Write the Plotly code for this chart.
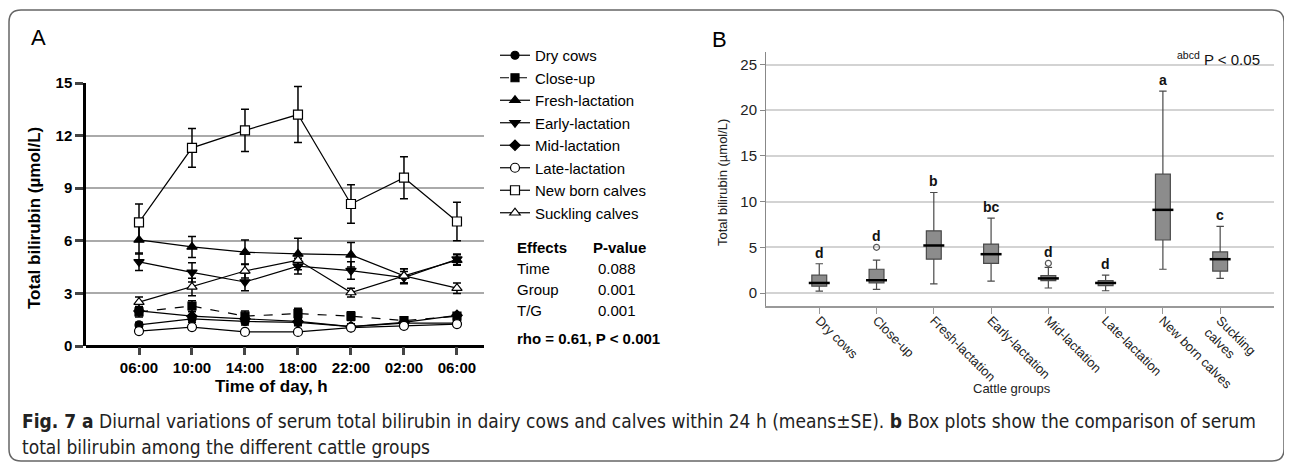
import plotly.graph_objects as go

# page body has an 8px margin, so the figure is shrunk by that much
OFF = 8
W, H = 1292 - OFF, 467 - OFF

# ─── Panel A data: diurnal means ± SE ─────────────────────────────────────────
times = ["06:00", "10:00", "14:00", "18:00", "22:00", "02:00", "06:00"]

dry_cows = [1.2, 1.55, 1.4, 1.35, 1.1, 1.3, 1.3]
dry_cows_se = [0.15, 0.2, 0.2, 0.2, 0.15, 0.15, 0.15]
close_up = [1.95, 2.28, 1.7, 1.85, 1.7, 1.45, 1.7]
close_up_se = [0.3, 0.3, 0.3, 0.3, 0.25, 0.2, 0.2]
fresh_lac = [6.05, 5.65, 5.35, 5.25, 5.2, 4.0, 4.9]
fresh_lac_se = [0.8, 0.6, 0.7, 0.9, 0.7, 0.4, 0.3]
early_lac = [4.8, 4.2, 3.65, 4.55, 4.3, 3.9, 4.95]
early_lac_se = [0.5, 0.55, 0.5, 0.45, 0.5, 0.35, 0.3]
mid_lac = [2.0, 1.7, 1.55, 1.4, 1.1, 1.35, 1.75]
mid_lac_se = [0.2, 0.25, 0.2, 0.2, 0.15, 0.15, 0.15]
late_lac = [0.85, 1.08, 0.8, 0.8, 1.05, 1.15, 1.25]
late_lac_se = [0.1, 0.12, 0.1, 0.1, 0.12, 0.12, 0.12]
new_born = [7.05, 11.3, 12.3, 13.2, 8.1, 9.6, 7.1]
new_born_se = [1.05, 1.1, 1.2, 1.6, 1.1, 1.2, 1.1]
suckling = [2.5, 3.37, 4.28, 4.9, 3.05, 4.0, 3.3]
suckling_se = [0.3, 0.5, 0.4, 0.35, 0.25, 0.4, 0.3]

effects = ["Time", "Group", "T/G"]
p_values = ["0.088", "0.001", "0.001"]

# ─── Panel B data: box plot summary ──────────────────────────────────────────
groups = ["Dry cows", "Close-up", "Fresh-lactation", "Early-lactation",
          "Mid-lactation", "Late-lactation", "New born calves", "Suckling calves"]
group_labels = ["Dry cows", "Close-up", "Fresh-lactation", "Early-lactation",
                "Mid-lactation", "Late-lactation", "New born calves", "Suckling<br>calves"]
b_low = [0.2, 0.4, 1.0, 1.3, 0.55, 0.25, 2.6, 1.6]
b_q1 = [0.75, 1.1, 3.7, 3.25, 1.35, 0.8, 5.8, 2.4]
b_med = [1.1, 1.4, 5.2, 4.25, 1.6, 1.1, 9.1, 3.7]
b_q3 = [1.95, 2.6, 6.8, 5.35, 1.9, 1.35, 13.0, 4.5]
b_high = [3.2, 3.6, 11.0, 8.2, 2.8, 1.95, 22.1, 7.3]
outlier_groups = ["Close-up", "Mid-lactation"]
outlier_values = [5.0, 3.25]
letters = ["d", "d", "b", "bc", "d", "d", "a", "c"]


def px(x):
    return (x - OFF) / W


def py(y):
    return 1 - (y - OFF) / H


fig = go.Figure()

# ── Panel A lines
series = [
    ("Dry cows", dry_cows, dry_cows_se, "circle", "black", "solid"),
    ("Close-up", close_up, close_up_se, "square", "black", "dash"),
    ("Fresh-lactation", fresh_lac, fresh_lac_se, "triangle-up", "black", "solid"),
    ("Early-lactation", early_lac, early_lac_se, "triangle-down", "black", "solid"),
    ("Mid-lactation", mid_lac, mid_lac_se, "diamond", "black", "solid"),
    ("Late-lactation", late_lac, late_lac_se, "circle", "white", "solid"),
    ("New born calves", new_born, new_born_se, "square", "white", "solid"),
    ("Suckling calves", suckling, suckling_se, "triangle-up", "white", "solid"),
]
xpos = list(range(len(times)))
for name, vals, se, sym, fill, dash in series:
    fig.add_trace(go.Scatter(
        x=xpos, y=vals, name=name, legendgroup=name,
        mode="lines+markers",
        line=dict(color="black", width=1.2, dash=dash),
        marker=dict(symbol=sym, size=9 if ("triangle" in sym or fill == "white") else 8,
                    color=fill, line=dict(color="black", width=1.2)),
        error_y=dict(type="data", array=se, color="black", thickness=1.5, width=4),
        xaxis="x", yaxis="y", cliponaxis=False,
    ))

# ── Panel B boxes
fig.add_trace(go.Box(
    x=groups, q1=b_q1, median=b_med, q3=b_q3,
    lowerfence=b_low, upperfence=b_high,
    fillcolor="#8c8c8c", line=dict(color="#4a4a4a", width=1.2),
    width=0.26, whiskerwidth=0.5, boxpoints=False,
    showlegend=False, xaxis="x2", yaxis="y2",
))
fig.add_trace(go.Scatter(
    x=groups, y=b_med, mode="markers", showlegend=False,
    marker=dict(symbol="line-ew", size=15, line=dict(color="black", width=2.5)),
    xaxis="x2", yaxis="y2", hoverinfo="skip",
))
fig.add_trace(go.Scatter(
    x=outlier_groups, y=outlier_values, mode="markers", showlegend=False,
    marker=dict(symbol="circle-open", size=6, color="#555555", line=dict(width=1.2)),
    xaxis="x2", yaxis="y2",
))

annotations = []


def note(x, y, text, size, xanchor="center", yanchor="middle", **kw):
    return dict(x=px(x), y=py(y), xref="paper", yref="paper", text=text, showarrow=False,
                xanchor=xanchor, yanchor=yanchor,
                font=dict(size=size, color=kw.pop("color", "black"),
                          family=kw.pop("family", "Liberation Sans")), **kw)


# letters above whisker / outlier
for g, hi, let in zip(groups, b_high, letters):
    top = max([hi] + [v for og, v in zip(outlier_groups, outlier_values) if og == g])
    annotations.append(dict(x=g, y=top, xref="x2", yref="y2", text=let, showarrow=False,
                            yanchor="bottom", yshift=1,
                            font=dict(size=14, color="#111", family="Liberation Sans", weight="bold")))

annotations.append(note(1262, 58, "<sup>abcd</sup> P < 0.05", 15, xanchor="right", color="#111"))

# effects table
annotations.append(note(515, 247, "<b>Effects</b>", 15, xanchor="left"))
annotations.append(note(591, 247, "<b>P-value</b>", 15, xanchor="left"))
for k, (eff, pv) in enumerate(zip(effects, p_values)):
    annotations.append(note(515, 268 + 21 * k, eff, 15, xanchor="left"))
    annotations.append(note(596, 268 + 21 * k, pv, 15, xanchor="left"))
annotations.append(note(515, 338, "<b>rho = 0.61, P < 0.001</b>", 15, xanchor="left"))

# panel letters and axis titles
annotations += [
    note(38, 38, "A", 22),
    note(719, 39, "B", 22),
    note(35, 218, "<b>Total bilirubin (µmol/L)</b>", 17, textangle=-90),
    note(271, 386, "<b>Time of day, h</b>", 17),
    note(722, 183, "Total bilirubin (µmol/L)", 13, textangle=-90, color="#222"),
    note(1012, 388, "Cattle groups", 13, color="#222"),
]

# caption
cap_family = "Liberation Sans Narrow, DejaVu Sans Condensed"
annotations += [
    note(20, 421, "<b>Fig. 7 a</b> Diurnal variations of serum total bilirubin in dairy cows and calves "
                  "within 24 h (means±SE). <b>b</b> Box plots show the comparison of serum",
         19, xanchor="left", color="#222", family=cap_family),
    note(20, 447, "total bilirubin among the different cattle groups", 19, xanchor="left",
         color="#222", family=cap_family),
]

# rounded frame
x0, x1, y0, y1 = px(9), px(1284), py(10), py(461)
rx, ry = 12 / W, 12 / H
frame = (f"M {x0 + rx} {y0} L {x1 - rx} {y0} Q {x1} {y0} {x1} {y0 - ry} "
         f"L {x1} {y1 + ry} Q {x1} {y1} {x1 - rx} {y1} "
         f"L {x0 + rx} {y1} Q {x0} {y1} {x0} {y1 + ry} "
         f"L {x0} {y0 - ry} Q {x0} {y0} {x0 + rx} {y0} Z")

fig.update_layout(
    width=W, height=H,
    paper_bgcolor="white", plot_bgcolor="white",
    margin=dict(l=0, r=0, t=0, b=0, autoexpand=False),
    font=dict(family="Liberation Sans", color="black"),
    showlegend=True,
    legend=dict(x=px(495), y=py(39), xanchor="left", yanchor="top",
                font=dict(size=15, color="black", family="Liberation Sans"),
                bgcolor="rgba(0,0,0,0)", tracegroupgap=0, itemclick=False),
    xaxis=dict(domain=[px(86), px(484)], range=[-1, 6.51],
               tickvals=xpos, ticktext=times, showgrid=False, zeroline=False,
               showline=False, ticks="outside", ticklen=8, tickwidth=2.5,
               tickfont=dict(size=15, weight="bold"), anchor="y", automargin=False),
    yaxis=dict(domain=[py(346), py(83)], range=[0, 15], tickvals=[0, 3, 6, 9, 12, 15],
               showgrid=True, gridcolor="#aaaaaa", gridwidth=1.5, zeroline=True,
               zerolinecolor="black", zerolinewidth=2.5,
               showline=True, linecolor="black", linewidth=2.5,
               ticks="outside", ticklen=8, tickwidth=2.5,
               tickfont=dict(size=15, weight="bold"), anchor="x", automargin=False),
    xaxis2=dict(domain=[px(766), px(1274)], range=[-0.93, 7.94], type="category",
                tickvals=groups, ticktext=group_labels, tickangle=45,
                showgrid=False, zeroline=False, showline=True, linecolor="#999999",
                linewidth=1.5, ticks="outside", ticklen=6, tickcolor="#999999",
                ticklabelstandoff=-6,
                tickfont=dict(size=13, color="#222"), anchor="y2", automargin=False),
    yaxis2=dict(domain=[py(306), py(52)], range=[-1.42, 26.37],
                tickvals=[0, 5, 10, 15, 20, 25], showgrid=True, gridcolor="#d3d3d3",
                gridwidth=1.5, zeroline=False, showline=True, linecolor="#888888",
                linewidth=1, ticks="outside", ticklen=5, tickcolor="#888888",
                tickfont=dict(size=15, color="#222"), anchor="x2", automargin=False),
    annotations=annotations,
    shapes=[dict(type="path", path=frame, xref="paper", yref="paper",
                 line=dict(color="#666666", width=1.5))],
)

fig.write_html("out.html")
